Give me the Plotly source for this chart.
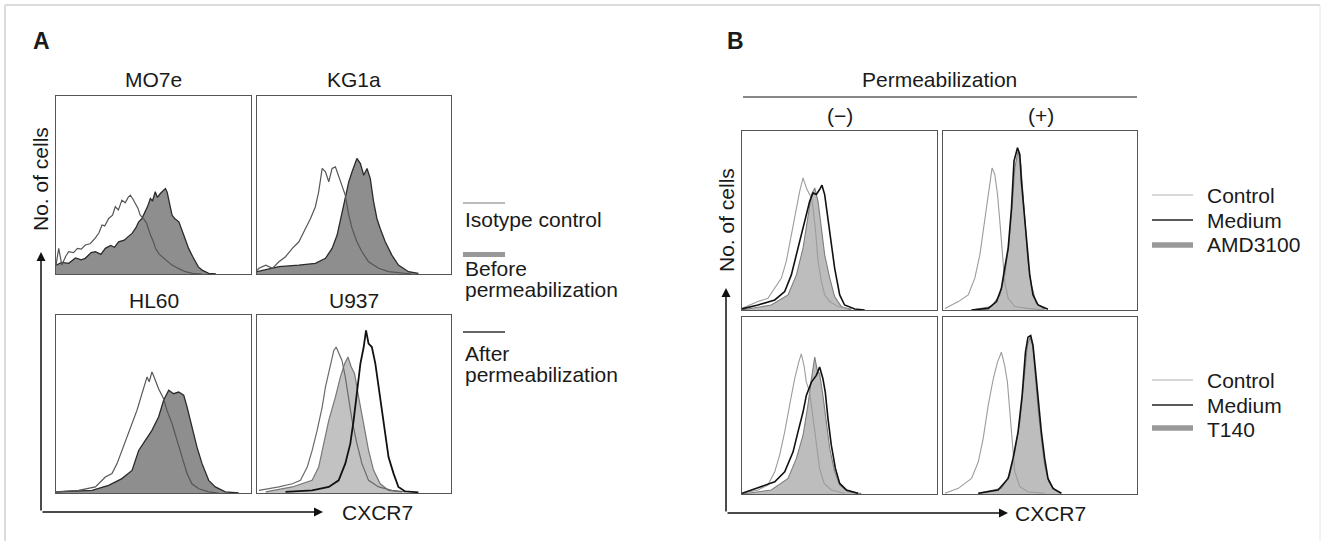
import plotly.graph_objects as go

W, H = 1322, 541

# ---------------- DATA (x = CXCR7 intensity, % of scale; y = relative no. of cells) ----------------
# Panel A
mo7e_iso_x = [0, 1.4, 3, 5, 6.5, 9, 11, 13, 15, 17.5, 20, 22, 23.6, 25, 27, 29, 30.4, 32, 33.8, 35.5,
              37, 38.1, 39.5, 40.7, 42, 43.2, 45, 46.5, 48.4, 50, 51, 53, 54.4, 57, 59.5, 63, 66.3, 70, 75]
mo7e_iso_y = [5, 14.4, 5, 10, 12.5, 12, 14.4, 14, 16.3, 17, 20, 23, 27.5, 27, 31.2, 33, 37.8, 36, 41.5, 40,
              43, 44.3, 42, 39.6, 37, 33.1, 31, 28.4, 22, 18, 14.4, 11, 9.7, 7, 5, 3, 1.3, 0.4, 0]
mo7e_pre_x = [0, 3, 6.5, 10, 13, 15, 18, 20.2, 23, 25.3, 28, 30, 32.1, 35, 37, 39, 41, 42.4, 44, 45.8,
              47, 48.4, 49.5, 50.9, 52, 53.5, 55, 56.1, 57, 57.8, 59.5, 61, 63, 65.5, 68, 70, 71.5, 73, 74.9, 78.3, 82]
mo7e_pre_y = [5, 6.5, 6, 9, 8, 8.8, 12, 12.5, 11, 14.4, 16, 15, 18.1, 19, 21, 22.8, 26, 29.3, 31, 35,
              38, 42.4, 41, 46.2, 43, 45.2, 47, 48, 46, 42.4, 33.1, 31, 29.3, 21.9, 14.4, 10, 6.9, 4, 2.2, 0.4, 0]

kg1a_iso_x = [0, 1, 4.5, 7.9, 11.3, 14.7, 18.2, 21.6, 25, 27.6, 30.1, 31.8, 33.6, 35.3, 37, 38.7, 40.4,
              42.1, 43.8, 45.5, 47.3, 49, 51.5, 54.1, 57.5, 62.7, 67.8, 74.7, 80]
kg1a_iso_y = [2, 3.2, 5, 3.2, 6.9, 9.7, 14.4, 18.1, 25.6, 31.2, 37.8, 46.2, 59.3, 57.4, 51.8, 59.3, 60.2,
              54.6, 49.9, 44.3, 33.1, 25.6, 18.1, 12.5, 6.9, 3.2, 1.3, 0.4, 0]
kg1a_pre_x = [0, 11.3, 21.6, 30.1, 35.3, 38.7, 41.3, 43.8, 45.5, 47.3, 49, 51.5, 53.3, 55, 56.7, 58.4,
              60.1, 61.8, 63.5, 66.1, 69.5, 72.9, 78.1, 83.2]
kg1a_pre_y = [1.3, 4.1, 5, 6, 8.8, 14.4, 21.9, 35, 42.4, 51.8, 57.4, 64.9, 62, 55.5, 59.3, 53.6,
              40.6, 31.2, 25.6, 18.1, 10.6, 5, 1.3, 0.4]

hl60_iso_x = [0, 11.6, 20.2, 25.3, 28.7, 31.3, 33.8, 36.4, 39, 41.5, 44.1, 46.7, 47.8, 49.2, 50, 50.9,
              52.6, 55.2, 56.9, 59.5, 62, 64.6, 67.2, 69.7, 73.2, 78.3, 83.4]
hl60_iso_y = [0.6, 1.5, 3.4, 9, 10.9, 16.5, 23.8, 31.5, 39, 46.4, 55.8, 65.2, 62.5, 68, 66, 63.3,
              58.6, 53, 46.4, 39, 29.6, 20.2, 10.9, 5.2, 2.4, 0.6, 0]
hl60_pre_x = [0, 18.5, 27, 33.8, 39, 42.4, 45.8, 49.2, 52.6, 55.2, 57.8, 60.3, 62.9, 65.5, 67.2, 69.7,
              72.3, 74.9, 78.3, 81.7, 86.8, 93.7]
hl60_pre_y = [0.6, 1.5, 4.3, 8.1, 12.7, 23.9, 29.6, 35.2, 42.7, 52.1, 57.7, 55.8, 56.7, 54.9, 48.3, 37.1,
              25.8, 16.5, 7.1, 3.4, 0.6, 0]

u937_iso_x = [1, 11.3, 18.2, 22.4, 25.9, 28.4, 31, 33.6, 35.3, 37.8, 39.6, 40.8, 42.1, 43.8, 45.5, 47.3,
              49, 51.5, 54.1, 57.5, 62.7, 69.5, 76.4]
u937_iso_y = [1.5, 3.4, 5.2, 7.1, 14.6, 23.8, 35.2, 48.3, 59.6, 72.7, 80.1, 82, 78.3, 74.5, 65.2, 53.9,
              40.8, 27.7, 16.5, 7.1, 3.4, 1.5, 0.6]
u937_pre_x = [4.5, 18.2, 28.4, 31.8, 34.4, 37, 40.4, 43, 45.2, 46.9, 48.6, 50.3, 52.4, 55, 57.5, 60.1,
              63.5, 67.8, 74.7]
u937_pre_y = [0.6, 3.4, 7.1, 14.6, 27.7, 40.8, 53.9, 65.2, 72.7, 76.4, 70.8, 67, 53.9, 38.9, 24, 12.7,
              5.2, 1.5, 0.6]
u937_post_x = [14.7, 28.4, 37, 42.1, 45.5, 48.1, 49.8, 51.5, 53.3, 55, 56.2, 57.5, 59.2, 61, 62.7, 64.4,
               66.1, 67.8, 70.4, 72.9, 76.4, 83.2]
u937_post_y = [0.6, 1.5, 3.4, 7.1, 16.5, 27.7, 40.8, 55.8, 72.7, 82, 91.4, 83.9, 82, 72.7, 59.6, 46.4,
               31.5, 20.2, 10.9, 3.4, 0.9, 0.4]

# Panel B  (top row: AMD3100, bottom row: T140; left: no permeabilization, right: permeabilization)
bneg_amd_ctrl_x = [0, 8.2, 13.3, 16.8, 20.2, 22.7, 25.3, 27.9, 29.6, 31.3, 33, 34.7, 35.9, 37.6, 39, 40.7,
                   42.4, 45, 49.2, 56.1]
bneg_amd_ctrl_y = [0.9, 4.7, 6.5, 12.1, 17.8, 27.1, 42.1, 55.1, 66.4, 73.8, 68.2, 64.5, 61.7, 45.8, 27.1, 15.9,
                   8.4, 4.7, 1.9, 0.6]
bneg_amd_med_x = [0, 8.2, 16.8, 21.9, 25.3, 27.9, 30.4, 33, 34.7, 36.4, 38.1, 39.8, 41, 42.4, 43.8, 45.5,
                  47.5, 50.1, 52.6, 57.8, 62.9]
bneg_amd_med_y = [0.6, 2.8, 5.6, 10.3, 19.6, 30.8, 42.1, 53.3, 60.7, 65.4, 64.5, 67.3, 69.7, 64.5, 53.3, 40.2,
                  23.4, 8.4, 2.8, 0.6, 0]
bneg_amd_drug_x = [0, 15, 23.6, 27.9, 31.3, 33.8, 35.6, 37.3, 39, 40.7, 42.4, 45, 47.5, 50.9, 56.1]
bneg_amd_drug_y = [0, 2.8, 8.4, 19.6, 34.6, 51.4, 64.5, 68.2, 60.7, 45.8, 30.8, 17.8, 7.5, 1.9, 0]

bpos_amd_ctrl_x = [1, 7.9, 13, 16.4, 19, 21.6, 23.3, 25.3, 26.7, 28.1, 29.3, 30.5, 31.8, 33.6, 37, 43.8, 52.4]
bpos_amd_ctrl_y = [0.9, 4.7, 8.4, 17.8, 30.8, 51.4, 64.5, 79.4, 75.7, 64.5, 49.5, 30.8, 15.9, 6.5, 1.9, 0.9, 0]
bpos_amd_med_x = [14.7, 23.3, 27.6, 30.1, 31.8, 33.6, 35.3, 36.6, 38.4, 39.6, 40.4, 41.8, 43.2, 44.7, 46.4, 49, 54.1]
bpos_amd_med_y = [0, 0.9, 4.7, 12.1, 23.4, 34.6, 57, 83.2, 90.7, 86.9, 72, 53.3, 34.6, 19.6, 8.4, 2.8, 0.4]
bpos_amd_drug_x = [14.7, 25, 29.3, 31.8, 33.9, 35.6, 37, 38.7, 40.1, 41.3, 42.5, 43.8, 45.5, 48.1, 52.4]
bpos_amd_drug_y = [0, 1.9, 8.4, 19.6, 36.4, 57, 79.4, 88.8, 81.3, 64.5, 45.8, 27.1, 14, 3.7, 0.4]

bneg_t140_ctrl_x = [0, 8.2, 13.3, 16.8, 19.3, 21.9, 24.4, 27, 29.1, 30.4, 31.8, 33, 34.7, 36.4, 38.1, 39.8,
                    42.1, 45.8, 52.6]
bneg_t140_ctrl_y = [0.4, 2.3, 5.1, 12.6, 22, 35.1, 50.1, 65.1, 74.5, 79.2, 72.6, 63.2, 57.6, 42.6, 27.6, 14.4,
                    6, 2.3, 0.4]
bneg_t140_med_x = [0, 9.9, 16.8, 21.9, 26.2, 28.7, 31.3, 33, 35.6, 38.1, 39.8, 41.5, 42.7, 44.1, 45.8, 47.9,
                   50.1, 53.5, 59.5]
bneg_t140_med_y = [0.4, 4.1, 6.9, 12.6, 23.8, 35.1, 46.3, 55.7, 63.2, 67, 71.7, 65.1, 57.6, 42.6, 27.6, 14.4,
                   6, 2.3, 0.4]
bneg_t140_drug_x = [0, 15, 23.6, 27.9, 31.3, 33.8, 35.6, 37.3, 38.6, 39.8, 41.5, 43.2, 45, 47.5, 50.1, 54.4, 61.2]
bneg_t140_drug_y = [0, 2.3, 8.8, 20.1, 33.2, 50.1, 65.1, 77.3, 69.8, 67.9, 55.7, 40.7, 25.7, 12.6, 5.1, 1.3, 0.2]

bpos_t140_ctrl_x = [1, 7.9, 14.7, 18.2, 20.7, 23.3, 25.9, 28.1, 30.1, 31.8, 33.2, 34.4, 35.6, 37, 39.6, 43.8, 52.4]
bpos_t140_ctrl_y = [0.4, 3.2, 8.8, 18.2, 31.3, 50.1, 65.1, 74.5, 80.1, 72.6, 63.2, 46.3, 27.6, 12.6, 4.1, 1.3, 0.4]
bpos_t140_med_x = [18.2, 28.4, 33.6, 36.1, 38.7, 40.8, 42.5, 43.8, 45.2, 46.4, 47.6, 49, 50.7, 52.4, 54.1, 56.7, 61]
bpos_t140_med_y = [0.4, 2.3, 8.8, 20.1, 35.1, 55.7, 80.1, 88.6, 89.5, 83.9, 70.7, 53.8, 35.1, 20.1, 8.8, 3.2, 0.4]
bpos_t140_drug_x = [18.2, 30.1, 34.4, 37, 39.6, 41.8, 43.5, 44.9, 46.2, 47.6, 49, 50.7, 52.4, 54.5, 57.5, 61]
bpos_t140_drug_y = [0.4, 3.2, 10.7, 23.8, 40.7, 65.1, 83.9, 88.6, 83.9, 67, 48.3, 31.3, 16.3, 6.9, 2.3, 0.4]

cell_lines = ["MO7e", "KG1a", "HL60", "U937"]
legend_a = ["Isotype control", "Before", "permeabilization", "After", "permeabilization"]
legend_b_top = ["Control", "Medium", "AMD3100"]
legend_b_bot = ["Control", "Medium", "T140"]

# ---------------- LAYOUT HELPERS ----------------
def PX(p):
    return p / W

def PY(p):
    return 1 - p / H

FONT = "Liberation Sans, Arial, Helvetica, sans-serif"
TXT = "#1a1a1a"
BOX = "#555555"

# subplot boxes (pixel extents in the 1322x541 figure)
boxes = [
    (56, 251, 96, 274),    # 1 MO7e
    (257, 451, 96, 274),   # 2 KG1a
    (56, 251, 315, 493),   # 3 HL60
    (257, 451, 315, 493),  # 4 U937
    (742, 937, 131, 310),  # 5 B top (-)
    (943, 1137, 131, 310), # 6 B top (+)
    (742, 937, 317, 494),  # 7 B bottom (-)
    (943, 1137, 317, 494), # 8 B bottom (+)
]

fig = go.Figure()
layout = dict(
    width=W, height=H, autosize=False,
    margin=dict(l=0, r=0, t=0, b=0),
    paper_bgcolor="white", plot_bgcolor="white",
    showlegend=False,
    font=dict(family=FONT, size=21, color=TXT),
)
for i, (x0, x1, y0, y1) in enumerate(boxes, start=1):
    ax = dict(domain=[PX(x0), PX(x1)], range=[0, 100], showline=True, mirror=True,
              linecolor=BOX, linewidth=1, showgrid=False, zeroline=False,
              showticklabels=False, ticks="", fixedrange=True)
    ay = dict(domain=[PY(y1), PY(y0)], range=[0, 100], showline=True, mirror=True,
              linecolor=BOX, linewidth=1, showgrid=False, zeroline=False,
              showticklabels=False, ticks="", fixedrange=True)
    layout["xaxis%d" % i] = dict(ax, anchor="y%d" % i)
    layout["yaxis%d" % i] = dict(ay, anchor="x%d" % i)

def ref(n):
    return ("x" if n == 1 else "x%d" % n), ("y" if n == 1 else "y%d" % n)

def filled(n, xs, ys, fillc, linec, lw=1.2):
    xr, yr = ref(n)
    fig.add_trace(go.Scatter(x=xs, y=ys, xaxis=xr, yaxis=yr, mode="lines", fill="tozeroy",
                             fillcolor=fillc, line=dict(color=linec, width=lw), hoverinfo="skip"))

def line(n, xs, ys, c, lw):
    xr, yr = ref(n)
    fig.add_trace(go.Scatter(x=xs, y=ys, xaxis=xr, yaxis=yr, mode="lines",
                             line=dict(color=c, width=lw), hoverinfo="skip"))

DARKFILL = "#8e8e8e"
LIGHTFILL = "#c2c2c2"

# Panel A
filled(1, mo7e_pre_x, mo7e_pre_y, DARKFILL, "#2b2b2b", 1.3)
line(1, mo7e_iso_x, mo7e_iso_y, "#555555", 1.2)
filled(2, kg1a_pre_x, kg1a_pre_y, DARKFILL, "#2b2b2b", 1.3)
line(2, kg1a_iso_x, kg1a_iso_y, "#555555", 1.2)
filled(3, hl60_pre_x, hl60_pre_y, DARKFILL, "#2b2b2b", 1.3)
line(3, hl60_iso_x, hl60_iso_y, "#555555", 1.2)
filled(4, u937_pre_x, u937_pre_y, LIGHTFILL, "#777777", 1.2)
line(4, u937_iso_x, u937_iso_y, "#6a6a6a", 1.2)
line(4, u937_post_x, u937_post_y, "#111111", 1.8)

# Panel B
CTRL = "#9c9c9c"
MED = "#111111"
for n, (dx, dy, cx, cy, mx, my) in zip(
    [5, 6, 7, 8],
    [(bneg_amd_drug_x, bneg_amd_drug_y, bneg_amd_ctrl_x, bneg_amd_ctrl_y, bneg_amd_med_x, bneg_amd_med_y),
     (bpos_amd_drug_x, bpos_amd_drug_y, bpos_amd_ctrl_x, bpos_amd_ctrl_y, bpos_amd_med_x, bpos_amd_med_y),
     (bneg_t140_drug_x, bneg_t140_drug_y, bneg_t140_ctrl_x, bneg_t140_ctrl_y, bneg_t140_med_x, bneg_t140_med_y),
     (bpos_t140_drug_x, bpos_t140_drug_y, bpos_t140_ctrl_x, bpos_t140_ctrl_y, bpos_t140_med_x, bpos_t140_med_y)]):
    filled(n, dx, dy, "#bdbdbd", "#7e7e7e", 1.1)
    line(n, cx, cy, CTRL, 1.1)
    line(n, mx, my, MED, 1.6)

# ---------------- ANNOTATIONS ----------------
ann = []

def text(t, x, y, xanchor="center", size=21, bold=False, angle=0):
    ann.append(dict(text=("<b>%s</b>" % t) if bold else t, x=PX(x), y=PY(y), xref="paper", yref="paper",
                    xanchor=xanchor, yanchor="middle", showarrow=False, textangle=angle,
                    font=dict(family=FONT, size=size, color=TXT)))

text("A", 41, 41, size=23, bold=True)
text("B", 735, 41, size=23, bold=True)
text(cell_lines[0], 153.5, 80)
text(cell_lines[1], 354, 80)
text(cell_lines[2], 153.5, 300)
text(cell_lines[3], 354, 300)
text("No. of cells", 41, 179, angle=-90)
text("No. of cells", 726, 220, angle=-90)
text("CXCR7", 340, 512, xanchor="left")
text("CXCR7", 1013, 513, xanchor="left")
text("Permeabilization", 940, 80)
text("(\u2212)", 840, 115)
text("(+)", 1041, 115)

# legend A
text(legend_a[0], 463, 219, xanchor="left")
text(legend_a[1], 463, 268, xanchor="left")
text(legend_a[2], 463, 289, xanchor="left")
text(legend_a[3], 463, 353, xanchor="left")
text(legend_a[4], 463, 374, xanchor="left")
# legend B
for lbl, yy in zip(legend_b_top, [195, 220, 245]):
    text(lbl, 1205, yy, xanchor="left")
for lbl, yy in zip(legend_b_bot, [380, 405, 429]):
    text(lbl, 1205, yy, xanchor="left")

# axis arrows
def arrow(tx, ty, dx, dy):
    ann.append(dict(text="", x=PX(tx), y=PY(ty), xref="paper", yref="paper", ax=dx, ay=dy,
                    axref="pixel", ayref="pixel", showarrow=True, arrowhead=2, arrowsize=1.2,
                    arrowwidth=1.5, arrowcolor="#111111", standoff=0))

arrow(41, 252, 0, 260)
arrow(323, 512, -282, 0)
arrow(726, 288, 0, 225)
arrow(1008, 513, -282, 0)

layout["annotations"] = ann

# ---------------- SHAPES ----------------
shapes = []

def seg(x0, y0, x1, y1, color, width):
    shapes.append(dict(type="line", xref="paper", yref="paper", x0=PX(x0), y0=PY(y0), x1=PX(x1), y1=PY(y1),
                       line=dict(color=color, width=width)))

# light outer frame
seg(5, 5, 1320, 5, "#dcdcdc", 2)
seg(5, 5, 5, 541, "#dcdcdc", 2)
seg(1320, 5, 1320, 541, "#e6e6e6", 1)
# permeabilization bracket line
seg(743, 97, 1137, 97, "#111111", 1.2)
# legend A keys
seg(463, 203, 505, 203, "#777777", 1)
seg(463, 254.5, 505, 254.5, "#999999", 5)
seg(463, 332, 505, 332, "#333333", 1.5)
# legend B keys
for yy, c, w in [(195, "#b0b0b0", 1), (220, "#222222", 1.3), (245, "#999999", 5.5)]:
    seg(1152, yy, 1193, yy, c, w)
for yy, c, w in [(380, "#b0b0b0", 1), (405, "#222222", 1.3), (428, "#999999", 5.5)]:
    seg(1152, yy, 1193, yy, c, w)

layout["shapes"] = shapes
fig.update_layout(**layout)

fig.write_html("out.html", config={"displayModeBar": False},
               post_script="document.body.style.margin='0px';document.body.style.overflow='hidden';")
